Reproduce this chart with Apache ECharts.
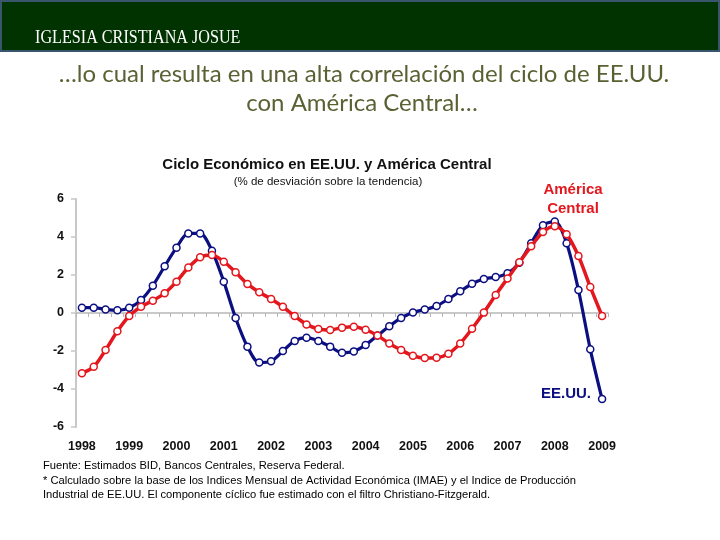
<!DOCTYPE html>
<html>
<head>
<meta charset="utf-8">
<script src="https://cdn.jsdelivr.net/npm/echarts@6/dist/echarts.min.js"></script>
<style>
html,body{margin:0;padding:0;background:#fff;}
#c{width:720px;height:540px;}
</style>
</head>
<body>
<div id="c"></div>
<script>
// ---- data ----
const years = [1998,1999,2000,2001,2002,2003,2004,2005,2006,2007,2008,2009];
const quarters = [];
years.forEach(function(y){ for (let q=1;q<=4;q++){ if (y===2009 && q>1) break; quarters.push(y+'Q'+q); } });
const yTicks = ['-6','-4','-2','0','2','4','6'];
const eeuu = [0.28,0.28,0.19,0.14,0.28,0.68,1.44,2.46,3.44,4.19,4.19,3.28,1.65,-0.26,-1.77,
  -2.61,-2.54,-2.0,-1.47,-1.30,-1.47,-1.77,-2.09,-2.02,-1.68,-1.19,-0.70,-0.26,0.03,
  0.18,0.37,0.74,1.14,1.54,1.79,1.89,2.09,2.65,3.67,4.62,4.81,3.67,1.21,-1.91,-4.53];
const americaCentral = [-3.17,-2.83,-1.95,-0.96,-0.16,0.33,0.65,1.04,1.65,2.39,2.93,3.05,2.70,2.14,1.53,
  1.09,0.74,0.33,-0.16,-0.60,-0.84,-0.89,-0.77,-0.72,-0.88,-1.19,-1.60,-1.95,-2.25,
  -2.37,-2.35,-2.14,-1.60,-0.83,0.02,0.95,1.82,2.67,3.51,4.26,4.56,4.14,3.0,1.37,-0.16];
const headerText = 'IGLESIA CRISTIANA JOSUE';
const subLine1 = '…lo cual resulta en una alta correlación del ciclo de EE.UU.';
const subLine2 = 'con América Central…';
const chartTitle = 'Ciclo Económico en EE.UU. y América Central';
const chartSub = '(% de desviación sobre la tendencia)';
const notes = [
  'Fuente: Estimados BID, Bancos Centrales, Reserva Federal.',
  '* Calculado sobre la base de los Indices Mensual de Actividad Económica (IMAE) y el Indice de Producción',
  'Industrial de EE.UU. El componente cíclico fue estimado con el filtro Christiano-Fitzgerald.'
];

const BLUE = '#0b0f80', RED = '#e3171d';
const chart = echarts.init(document.getElementById('c'), null, {renderer:'canvas'});
chart.setOption({
  animation:false,
  backgroundColor:'#ffffff',
  grid:{left:76, top:199, width:532, height:228, containLabel:false},
  xAxis:[{
    type:'category', data:quarters, boundaryGap:true,
    axisLine:{onZero:true, lineStyle:{color:'#b8b8b8', width:1.5}},
    axisTick:{show:true, interval:0, length:4, lineStyle:{color:'#b8b8b8'}},
    axisLabel:{show:false}, splitLine:{show:false}
  },{
    type:'category', data:quarters, boundaryGap:true, position:'bottom',
    axisLine:{show:false, onZero:false}, axisTick:{show:false}, splitLine:{show:false},
    axisLabel:{interval:0, margin:13, fontFamily:'Arial, Liberation Sans', fontSize:12.5, fontWeight:'bold', color:'#111',
      formatter:function(v){ return v.slice(4)==='Q1' ? v.slice(0,4) : ''; }}
  }],
  yAxis:{
    type:'value', min:-6, max:6, interval:2,
    axisLine:{show:true, lineStyle:{color:'#c8c8c8', width:2}},
    axisTick:{show:true, length:5, lineStyle:{color:'#c8c8c8', width:1.5}},
    splitLine:{show:false},
    axisLabel:{margin:12, fontFamily:'Arial, Liberation Sans', fontSize:12.5, fontWeight:'bold', color:'#111',
      formatter:function(v){ const s=String(v); return yTicks.indexOf(s)>=0 ? s : ''; }}
  },
  series:[{
    name:'EE.UU.', type:'line', data:eeuu, xAxisIndex:0, smooth:0.3,
    symbol:'circle', symbolSize:7, showAllSymbol:true,
    lineStyle:{color:BLUE, width:3.2},
    itemStyle:{color:'#fff', borderColor:BLUE, borderWidth:1.5}, z:2
  },{
    name:'América Central', type:'line', data:americaCentral, xAxisIndex:0, smooth:0.3,
    symbol:'circle', symbolSize:7, showAllSymbol:true,
    lineStyle:{color:RED, width:3.5},
    itemStyle:{color:'#fff', borderColor:RED, borderWidth:1.5}, z:3
  }],
  graphic:[
    {type:'rect', shape:{x:1,y:1,width:718,height:50}, style:{fill:'#003300', stroke:'#3a566d', lineWidth:2}, z:0},
    {type:'text', x:35, y:38, scaleX:0.85, style:{x:0, y:0, text:headerText, fill:'#ffffff', font:'19px "Liberation Serif", "DejaVu Serif", serif', verticalAlign:'middle', align:'left'}},
    {type:'text', style:{x:364, y:74, text:subLine1, fill:'#5a6234', font:'24px Lato, "Open Sans", sans-serif', verticalAlign:'middle', align:'center'}},
    {type:'text', style:{x:362, y:103, text:subLine2, fill:'#5a6234', font:'24px Lato, "Open Sans", sans-serif', verticalAlign:'middle', align:'center'}},
    {type:'text', style:{x:327, y:165, text:chartTitle, fill:'#111', font:'bold 15px Arial, "Liberation Sans", sans-serif', verticalAlign:'middle', align:'center'}},
    {type:'text', style:{x:328, y:182, text:chartSub, fill:'#111', font:'11.5px Arial, "Liberation Sans", sans-serif', verticalAlign:'middle', align:'center'}},
    {type:'text', style:{x:573, y:190, text:'América', fill:RED, font:'bold 15px Arial, "Liberation Sans", sans-serif', verticalAlign:'middle', align:'center'}},
    {type:'text', style:{x:573, y:209, text:'Central', fill:RED, font:'bold 15px Arial, "Liberation Sans", sans-serif', verticalAlign:'middle', align:'center'}},
    {type:'text', style:{x:566, y:394, text:'EE.UU.', fill:BLUE, font:'bold 15px Arial, "Liberation Sans", sans-serif', verticalAlign:'middle', align:'center'}},
    {type:'text', style:{x:43, y:466, text:notes[0], fill:'#000', font:'11.2px Arial, "Liberation Sans", sans-serif', verticalAlign:'middle', align:'left'}},
    {type:'text', style:{x:43, y:481, text:notes[1], fill:'#000', font:'11.2px Arial, "Liberation Sans", sans-serif', verticalAlign:'middle', align:'left'}},
    {type:'text', style:{x:43, y:495, text:notes[2], fill:'#000', font:'11.2px Arial, "Liberation Sans", sans-serif', verticalAlign:'middle', align:'left'}}
  ]
});
</script>
</body>
</html>
